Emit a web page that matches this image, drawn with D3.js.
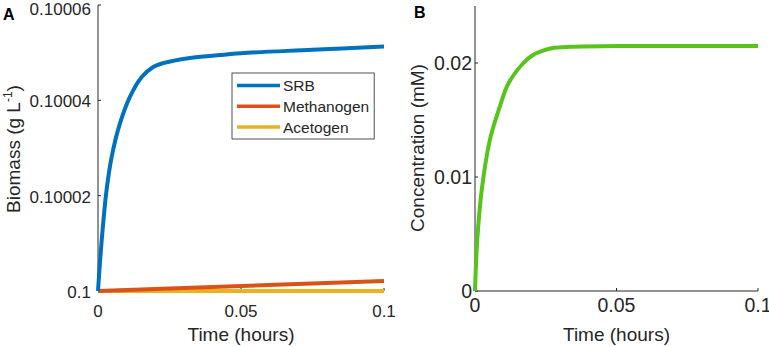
<!DOCTYPE html>
<html>
<head>
<meta charset="utf-8">
<script src="https://cdn.jsdelivr.net/npm/d3@7"></script>
<style>
  body { margin: 0; background: #fff; }
  svg text { font-family: "Liberation Sans", Arial, sans-serif; fill: #262626; }
</style>
</head>
<body>
<div id="chart"></div>
<script>
// time (hours) and values
const srbT = [0, 0.0013, 0.003, 0.0048, 0.0077, 0.0112, 0.0153, 0.0193, 0.0227, 0.0322, 0.039, 0.05, 0.075, 0.1];
const srbV = [0.1, 0.1000107, 0.1000212, 0.1000282, 0.1000352, 0.1000408, 0.1000449, 0.100047, 0.1000478, 0.1000489, 0.1000493, 0.1000499, 0.1000506, 0.1000513];
const methT = [0, 0.1];
const methV = [0.1, 0.1000021];
const acetT = [0, 0.1];
const acetV = [0.1, 0.1];
const concT = [0, 0.0008, 0.0024, 0.0053, 0.0088, 0.0118, 0.0171, 0.0205, 0.0243, 0.028, 0.0337, 0.05, 0.1];
const concV = [0, 0.0045, 0.0089, 0.0133, 0.0162, 0.0182, 0.02, 0.0207, 0.0211, 0.02133, 0.02142, 0.02149, 0.02149];

const xTicks = [0, 0.05, 0.1];
const xTickLabels = ['0', '0.05', '0.1'];
const yTicksA = [0.1, 0.10002, 0.10004, 0.10006];
const yTickLabelsA = ['0.1', '0.10002', '0.10004', '0.10006'];
const yTicksB = [0, 0.01, 0.02];
const yTickLabelsB = ['0', '0.01', '0.02'];
const legendNames = ['SRB', 'Methanogen', 'Acetogen'];
const colors = ['#0072BD', '#D95319', '#EDB120'];
const green = '#56c41b';

const svg = d3.select('#chart').append('svg')
  .attr('width', 769).attr('height', 347);

const zip = (t, v) => t.map((d, i) => [d, v[i]]);

function panel(opts) {
  const g = svg.append('g');
  const x = d3.scaleLinear().domain([0, 0.1]).range([opts.x0, opts.x1]);
  const y = d3.scaleLinear().domain(opts.ydom).range([291, opts.top]);

  // axis lines (box off)
  g.append('line').attr('x1', opts.x0).attr('x2', opts.x0).attr('y1', opts.top).attr('y2', 291)
    .attr('stroke', '#262626').attr('stroke-width', 1);
  g.append('line').attr('x1', opts.x0).attr('x2', opts.x1).attr('y1', 291).attr('y2', 291)
    .attr('stroke', '#262626').attr('stroke-width', 1);

  // ticks point inward
  xTicks.forEach((t, i) => {
    g.append('line').attr('x1', x(t)).attr('x2', x(t)).attr('y1', 291).attr('y2', 288)
      .attr('stroke', '#262626');
    g.append('text').attr('x', x(t)).attr('y', opts.xLabY).attr('text-anchor', 'middle')
      .attr('font-size', opts.tickSize).text(xTickLabels[i]);
  });
  opts.yTicks.forEach((t, i) => {
    g.append('line').attr('x1', opts.x0).attr('x2', opts.x0 + 3).attr('y1', y(t)).attr('y2', y(t))
      .attr('stroke', '#262626');
    g.append('text').attr('x', opts.yLabX).attr('y', Math.max(y(t) + 7, 15)).attr('text-anchor', 'end')
      .attr('font-size', opts.tickSize).text(opts.yLabels[i]);
  });

  g.append('text').attr('x', (opts.x0 + opts.x1) / 2).attr('y', 341).attr('text-anchor', 'middle')
    .attr('font-size', 19).text('Time (hours)');

  const line = d3.line().x(d => x(d[0])).y(d => y(d[1])).curve(d3.curveCatmullRom.alpha(0.5));
  opts.series.forEach(s => {
    g.append('path').datum(s.data).attr('d', line)
      .attr('fill', 'none').attr('stroke', s.color).attr('stroke-width', 4)
      .attr('stroke-linejoin', 'round');
  });
  return {g, x, y};
}

const A = panel({
  x0: 98, x1: 384, top: 5, ydom: [0.1, 0.10006],
  yTicks: yTicksA, yLabels: yTickLabelsA, tickSize: 17, yLabX: 91, xLabY: 317,
  series: [
    {data: zip(acetT, acetV), color: colors[2]},
    {data: zip(methT, methV), color: colors[1]},
    {data: zip(srbT, srbV), color: colors[0]}
  ]
});

const B = panel({
  x0: 475, x1: 758, top: 6, ydom: [0, 0.025],
  yTicks: yTicksB, yLabels: yTickLabelsB, tickSize: 19.5, yLabX: 472, xLabY: 312,
  series: [{data: zip(concT, concV), color: green}]
});

// y labels
const ylA = svg.append('text').attr('transform', 'translate(20,149) rotate(-90)')
  .attr('text-anchor', 'middle').attr('font-size', 19);
ylA.append('tspan').text('Biomass (g L');
ylA.append('tspan').attr('font-size', 12).attr('dy', -8).text('-1');
ylA.append('tspan').attr('dy', 8).text(')');

svg.append('text').attr('transform', 'translate(424,148) rotate(-90)')
  .attr('text-anchor', 'middle').attr('font-size', 19).text('Concentration (mM)');

// panel letters
svg.append('text').attr('x', 3).attr('y', 20).attr('font-size', 16).attr('font-weight', 'bold')
  .style('fill', '#000').text('A');
svg.append('text').attr('x', 414).attr('y', 18).attr('font-size', 16).attr('font-weight', 'bold')
  .style('fill', '#000').text('B');

// legend
const leg = svg.append('g').attr('transform', 'translate(232,73)');
const box = leg.append('rect').attr('height', 66).attr('fill', '#fff')
  .attr('stroke', '#262626').attr('stroke-width', 0.8);
let maxW = 0;
legendNames.forEach((n, i) => {
  const yy = 12.5 + i * 20.8;
  leg.append('line').attr('x1', 5).attr('x2', 48).attr('y1', yy).attr('y2', yy)
    .attr('stroke', colors[i]).attr('stroke-width', 3.5);
  const tx = leg.append('text').attr('x', 51).attr('y', yy + 5.5).attr('font-size', 15.5).text(n);
  maxW = Math.max(maxW, tx.node().getComputedTextLength());
});
box.attr('width', 51 + maxW + 5);
</script>
</body>
</html>
